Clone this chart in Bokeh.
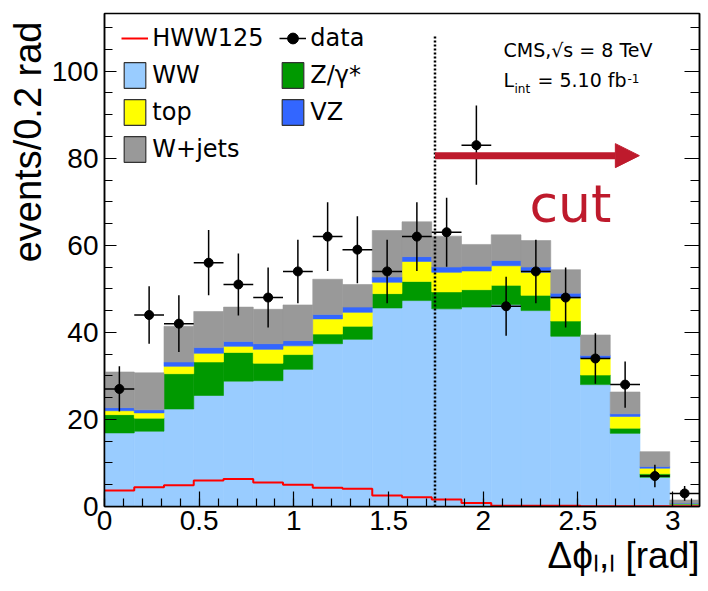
import numpy as np
from bokeh.plotting import figure
from bokeh.models import (Range1d, LinearAxis, SingleIntervalTicker, NumeralTickFormatter,
                          CustomJSTickFormatter, Label, Arrow, NormalHead, Legend, LegendItem, Title)
from bokeh.embed import file_html
from bokeh.resources import INLINE

# ---------------- data ----------------
n_bins = 20
x_min, x_max = 0.0, np.pi
y_max = 113.25

ww = [16.9, 17.3, 22.4, 25.5, 28.8, 28.9, 31.5, 37.4, 38.4, 45.6,
      47.3, 45.4, 45.8, 46.4, 45.0, 39.1, 28.0, 16.8, 6.7, 0.5]
zgamma = [4.2, 3.0, 8.1, 7.7, 6.6, 4.0, 3.4, 2.2, 3.0, 3.3,
          4.4, 3.9, 4.0, 4.4, 3.5, 3.5, 2.2, 1.2, 0.8, 0.1]
top = [0.9, 1.2, 1.7, 2.0, 1.4, 3.2, 2.0, 3.5, 3.2, 2.6,
       4.6, 4.5, 4.3, 4.5, 5.3, 5.3, 3.9, 2.7, 1.3, 0.1]
vz = [0.7, 0.7, 1.0, 1.3, 1.1, 1.3, 1.2, 1.0, 1.2, 1.2,
      1.1, 1.2, 1.1, 1.2, 1.2, 1.1, 0.6, 0.6, 0.4, 0.1]
wjets = [8.2, 8.5, 8.2, 8.3, 7.9, 7.9, 8.2, 8.1, 5.2, 10.7,
         8.0, 7.1, 5.0, 5.9, 6.1, 5.4, 4.7, 5.0, 3.4, 0.7]
hww125 = [3.7, 4.4, 4.9, 6.0, 6.3, 5.5, 5.0, 4.3, 4.1, 2.5,
          2.1, 1.6, 0.8, 0.2, 0.2, 0.2, 0.05, 0.05, 0.05, 0.05]
data = [27, 44, 42, 56, 51, 48, 54, 62, 59, 54,
        62, 63, 83, 46, 54, 48, 34, 28, 7, 3]
data_err = [5.2, 6.6, 6.5, 7.5, 7.1, 6.9, 7.3, 7.9, 7.7, 7.3,
            7.9, 7.9, 9.1, 6.8, 7.3, 6.9, 5.8, 5.3, 2.6, 1.7]

cut_value = 1.745
cut_line_top = 108.0
arrow_end = 2.824
arrow_y = 80.6

# ---------------- styles ----------------
c_ww = "#99ccff"
c_z = "#009900"
c_top = "#ffff00"
c_vz = "#3366ff"
c_wj = "#999999"
c_hww = "#ff0000"
c_cut = "#be1a2c"
TICK_FONT = "Liberation Sans"
LEG_FONT = "DejaVu Sans"

FRAME_L, FRAME_W, FRAME_T, FRAME_H = 104, 595, 13, 493
p = figure(frame_width=FRAME_W, frame_height=FRAME_H,
           min_border_left=FRAME_L, min_border_right=9,
           min_border_top=FRAME_T, min_border_bottom=85,
           x_range=Range1d(x_min, x_max), y_range=Range1d(0, y_max),
           output_backend="svg", toolbar_location=None,
           outline_line_color="black", outline_line_width=1.5)
p.grid.visible = False

# helpers (picture pixel -> data) for annotation placement only
XS = FRAME_W / (x_max - x_min)
YS = FRAME_H / y_max
def dx(px):
    return (px - FRAME_L) / XS
def dy(py):
    return ((FRAME_T + FRAME_H) - py) / YS

# ---------------- stacked histogram ----------------
edges = np.linspace(x_min, x_max, n_bins + 1)
left, right = edges[:-1], edges[1:]
centers = 0.5 * (left + right)
base = np.zeros(n_bins)
for vals, col in [(ww, c_ww), (zgamma, c_z), (top, c_top), (vz, c_vz), (wjets, c_wj)]:
    v = np.array(vals)
    p.quad(left=left, right=right, bottom=base, top=base + v,
           fill_color=col, line_color=col, line_width=0.6)
    base = base + v

# signal line
r_hww = p.step(x=edges, y=list(hww125) + [hww125[-1]], mode="after",
               line_color=c_hww, line_width=2)

# data points
d = np.array(data, dtype=float)
e = np.array(data_err)
p.segment(x0=centers, y0=d - e, x1=centers, y1=d + e, line_color="black", line_width=1.5)
r_hbar = p.segment(x0=left, y0=d, x1=right, y1=d, line_color="black", line_width=1.5)
r_pts = p.scatter(x=centers, y=d, size=9, marker="circle", fill_color="black", line_color="black")

# cut line and arrow
p.segment(x0=[cut_value], y0=[0], x1=[cut_value], y1=[cut_line_top],
          line_color="black", line_width=2.5, line_dash="2 2")
p.add_layout(Arrow(end=NormalHead(size=24, fill_color=c_cut, line_color=c_cut, line_width=1),
                   x_start=cut_value, y_start=arrow_y, x_end=arrow_end, y_end=arrow_y,
                   line_color=c_cut, line_width=7))
p.add_layout(Label(x=dx(529), y=dy(233), text="cut", text_font=LEG_FONT,
                   text_font_size="52px", text_color=c_cut))

# ---------------- axes ----------------
for ax in [p.xaxis[0], p.yaxis[0]]:
    ax.major_label_text_font = TICK_FONT
    ax.major_label_text_font_size = "28px"
    ax.major_label_text_color = "black"
    ax.axis_line_color = "black"
    ax.axis_line_width = 1.5
    ax.major_tick_out = 0
    ax.minor_tick_out = 0
    ax.major_tick_line_color = "black"
    ax.minor_tick_line_color = "black"
    ax.major_tick_line_width = 1.2
    ax.minor_tick_line_width = 1.2

p.xaxis.ticker = SingleIntervalTicker(interval=0.5, num_minor_ticks=5)
p.xaxis.formatter = NumeralTickFormatter(format="0.[0]")
p.xaxis.major_tick_in = 15
p.xaxis.minor_tick_in = 8
p.xaxis.major_label_standoff = 4

p.yaxis.ticker = SingleIntervalTicker(interval=20, num_minor_ticks=4)
p.yaxis.major_tick_in = 12
p.yaxis.minor_tick_in = 8
p.yaxis.major_label_standoff = 6

yr = LinearAxis(ticker=SingleIntervalTicker(interval=20, num_minor_ticks=4),
                formatter=CustomJSTickFormatter(code="return ''"),
                major_label_standoff=0,
                major_tick_in=15, major_tick_out=0, minor_tick_in=9, minor_tick_out=0,
                axis_line_color="black", axis_line_width=1.5,
                major_tick_line_width=1.2, minor_tick_line_width=1.2)
p.add_layout(yr, "right")

# axis titles (as side-panel titles so they can sit at the ends of the axes)
p.add_layout(Title(text="events/0.2 rad", align="right", offset=8, standoff=0,
                   text_font=TICK_FONT, text_font_size="38px", text_font_style="normal",
                   text_color="black"), "left")
p.add_layout(Title(text="Δϕₗ,ₗ [rad]", align="right", offset=0, standoff=0,
                   text_font=TICK_FONT, text_font_size="37px", text_font_style="normal",
                   text_color="black"), "below")

# CMS text
p.add_layout(Label(x=dx(503), y=dy(60), text="CMS,√s = 8 TeV", text_font=LEG_FONT,
                   text_font_size="19px", text_color="black"))
p.add_layout(Label(x=dx(503), y=dy(90), text="L", text_font=LEG_FONT,
                   text_font_size="19px", text_color="black"))
p.add_layout(Label(x=dx(514), y=dy(95), text="int", text_font=LEG_FONT,
                   text_font_size="12px", text_color="black"))
p.add_layout(Label(x=dx(537), y=dy(90), text="= 5.10 fb", text_font=LEG_FONT,
                   text_font_size="19px", text_color="black"))
p.add_layout(Label(x=dx(627), y=dy(82), text="-1", text_font=LEG_FONT,
                   text_font_size="12px", text_color="black"))

# ---------------- legend ----------------
def swatch(col):
    # legend-only renderer (its single NaN box draws nothing in the plot)
    return p.quad(left=[np.nan], right=[np.nan], top=[np.nan], bottom=[np.nan],
                  fill_color=col, line_color="#333333", line_width=1.2)

items = [
    LegendItem(label="HWW125", renderers=[r_hww]),
    LegendItem(label="data", renderers=[r_hbar, r_pts]),
    LegendItem(label="WW", renderers=[swatch(c_ww)]),
    LegendItem(label="Z/γ*", renderers=[swatch(c_z)]),
    LegendItem(label="top", renderers=[swatch(c_top)]),
    LegendItem(label="VZ", renderers=[swatch(c_vz)]),
    LegendItem(label="W+jets", renderers=[swatch(c_wj)]),
]
leg = Legend(items=items, orientation="horizontal", ncols=2,
             location=(17.3, 340.8), glyph_width=27, glyph_height=32,
             label_standoff=4, label_width=122, label_height=30, spacing=5,
             padding=0, margin=0, border_line_color=None, background_fill_alpha=0,
             label_text_font=LEG_FONT, label_text_font_size="24px",
             label_text_color="black")
p.add_layout(leg, "center")

open("out.html", "w").write(file_html(p, INLINE))
